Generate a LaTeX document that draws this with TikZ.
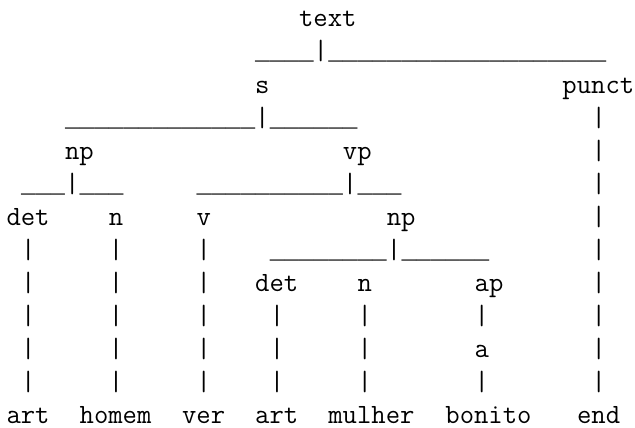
\documentclass[tikz,border=0pt]{standalone}
\usepackage{fontspec}
\setmonofont{Latin Modern Mono}
\newfontfamily\usfont{Liberation Mono}
\begin{document}
\begin{tikzpicture}[x=1pt,y=-1pt,
  tok/.style={anchor=base west,inner sep=0pt,outer sep=0pt,
    font=\fontsize{27.87pt}{33pt}\selectfont\ttfamily,text=black},
  utok/.style={tok,font=\fontsize{24.38pt}{33pt}\selectfont\usfont}]
\fill[white] (0,0) rectangle (635,428);
\useasboundingbox (0,0) rectangle (635,428);
\newcommand\tk[4]{\node[tok] (#1) at ({6.5+#3*14.63},{27+33*(#2-1)}) {#4};}
\newcommand\tu[4]{\node[utok] (#1) at ({6.5+#3*14.63},{27+33*(#2-1)}) {#4};}
% row 1
\tk{rAtext}{1}{20}{text}
% row 2
\tu{rBua}{2}{17}{\_\_\_\_}
\tk{rBp}{2}{21}{|}
\tu{rBub}{2}{22}{\_\_\_\_\_\_\_\_\_\_\_\_\_\_\_\_\_\_\_}
% row 3
\tk{rCs}{3}{17}{s}
\tk{rCpunct}{3}{38}{punct}
% row 4
\tu{rDua}{4}{4}{\_\_\_\_\_\_\_\_\_\_\_\_\_}
\tk{rDp}{4}{17}{|}
\tu{rDub}{4}{18}{\_\_\_\_\_\_}
\tk{rDq}{4}{40}{|}
% row 5
\tk{rEnp}{5}{4}{np}
\tk{rEvp}{5}{23}{vp}
\tk{rEq}{5}{40}{|}
% row 6
\tu{rFua}{6}{1}{\_\_\_}
\tk{rFpa}{6}{4}{|}
\tu{rFub}{6}{5}{\_\_\_}
\tu{rFuc}{6}{13}{\_\_\_\_\_\_\_\_\_\_}
\tk{rFpb}{6}{23}{|}
\tu{rFud}{6}{24}{\_\_\_}
\tk{rFq}{6}{40}{|}
% row 7
\tk{rGdet}{7}{0}{det}
\tk{rGn}{7}{7}{n}
\tk{rGv}{7}{13}{v}
\tk{rGnp}{7}{26}{np}
\tk{rGq}{7}{40}{|}
% row 8
\tk{rHa}{8}{1}{|}
\tk{rHb}{8}{7}{|}
\tk{rHc}{8}{13}{|}
\tu{rHua}{8}{18}{\_\_\_\_\_\_\_\_}
\tk{rHp}{8}{26}{|}
\tu{rHub}{8}{27}{\_\_\_\_\_\_}
\tk{rHq}{8}{40}{|}
% row 9
\tk{rIa}{9}{1}{|}
\tk{rIb}{9}{7}{|}
\tk{rIc}{9}{13}{|}
\tk{rIdet}{9}{17}{det}
\tk{rIn}{9}{24}{n}
\tk{rIap}{9}{32}{ap}
\tk{rIq}{9}{40}{|}
% row 10
\tk{rJa}{10}{1}{|}
\tk{rJb}{10}{7}{|}
\tk{rJc}{10}{13}{|}
\tk{rJd}{10}{18}{|}
\tk{rJe}{10}{24}{|}
\tk{rJf}{10}{32}{|}
\tk{rJq}{10}{40}{|}
% row 11
\tk{rKa}{11}{1}{|}
\tk{rKb}{11}{7}{|}
\tk{rKc}{11}{13}{|}
\tk{rKd}{11}{18}{|}
\tk{rKe}{11}{24}{|}
\tk{rKa2}{11}{32}{a}
\tk{rKq}{11}{40}{|}
% row 12
\tk{rLa}{12}{1}{|}
\tk{rLb}{12}{7}{|}
\tk{rLc}{12}{13}{|}
\tk{rLd}{12}{18}{|}
\tk{rLe}{12}{24}{|}
\tk{rLf}{12}{32}{|}
\tk{rLq}{12}{40}{|}
% row 13
\tk{rMart}{13}{0}{art}
\tk{rMhomem}{13}{5}{homem}
\tk{rMver}{13}{12}{ver}
\tk{rMartb}{13}{17}{art}
\tk{rMmulher}{13}{22}{mulher}
\tk{rMbonito}{13}{30}{bonito}
\tk{rMend}{13}{39}{end}
\end{tikzpicture}
\end{document}
